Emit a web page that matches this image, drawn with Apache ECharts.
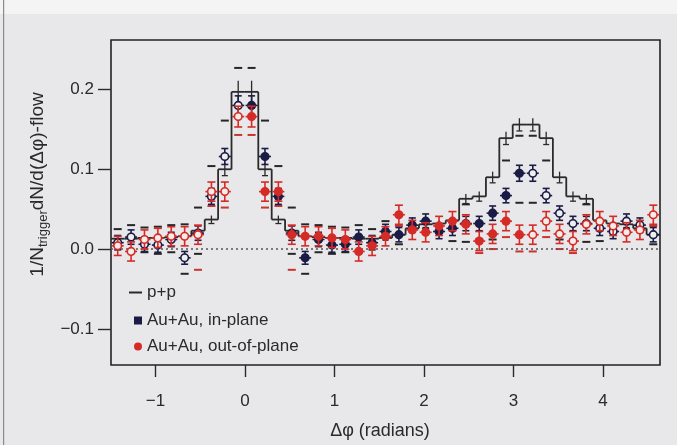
<!DOCTYPE html>
<html>
<head>
<meta charset="utf-8">
<title>Away-side suppression: in-plane vs out-of-plane</title>
<script src="https://cdn.jsdelivr.net/npm/echarts@6/dist/echarts.min.js"></script>
<style>
  html, body { margin: 0; padding: 0; background: #e8e8ea; }
  #chart { width: 677px; height: 445px; }
</style>
</head>
<body>
<div id="chart"></div>
<script>
// measured bins from 0 to pi (21 bins of width pi/21), the open symbols are reflections
const inPlane  = [0.180, 0.116, 0.066, 0.020, -0.011, 0.012, 0.005, 0.006, 0.015, 0.008, 0.022,
                  0.018, 0.030, 0.035, 0.022, 0.026, 0.032, 0.032, 0.045, 0.067, 0.095];
const inErr    = [0.012, 0.010, 0.010, 0.009, 0.008, 0.009, 0.009, 0.009, 0.009, 0.009, 0.009,
                  0.009, 0.009, 0.009, 0.009, 0.009, 0.009, 0.009, 0.009, 0.009, 0.010];
const outPlane = [0.166, 0.072, 0.072, 0.018, 0.016, 0.016, 0.014, 0.012, -0.003, 0.004, 0.016,
                  0.043, 0.024, 0.021, 0.029, 0.035, 0.031, 0.010, 0.019, 0.035, 0.018];
const outErr   = [0.013, 0.012, 0.012, 0.012, 0.012, 0.012, 0.012, 0.012, 0.012, 0.012, 0.012,
                  0.012, 0.012, 0.012, 0.012, 0.012, 0.012, 0.012, 0.012, 0.012, 0.012];
const ppValues = [0.197, 0.100, 0.037, 0.023, 0.016, 0.015, 0.014, 0.014, 0.013, 0.013, 0.014,
                  0.018, 0.026, 0.031, 0.032, 0.036, 0.063, 0.066, 0.090, 0.139, 0.156];
const ppErr    = [0.014, 0.008, 0.005, 0.004, 0.003, 0.003, 0.003, 0.003, 0.003, 0.003, 0.003,
                  0.003, 0.004, 0.004, 0.004, 0.005, 0.006, 0.006, 0.007, 0.008, 0.008];

// systematic (v2) limits, drawn as short dashes; null = not visible
const inSysHi  = [0.227, 0.161, 0.104, 0.052, 0.031, 0.030, 0.028, 0.027, 0.030, 0.025, 0.035,
                  null, null, null, null, null, 0.056, null, null, 0.111, 0.142];
const inSysLo  = [null, null, null, -0.006, -0.031, -0.004, -0.006, -0.004, null, null, null,
                  0.006, null, null, null, 0.010, 0.009, 0.012, 0.012, null, 0.058];
const outSysLo = [0.143, 0.052, 0.054, -0.026, null, null, null, null, null, null, null,
                  0.029, null, null, null, null, null, -0.005, 0.000, 0.015, -0.003];

const xTicks = [-1, 0, 1, 2, 3, 4];
const yTicks = [-0.1, 0.0, 0.1, 0.2];

const binCount = 21;
const binWidth = Math.PI / binCount;
const firstBin = -10;
const lastBin = 30;

const font = 'Liberation Sans, Arial, sans-serif';
const ink = '#2a2a2a';
const navy = '#1b1c45';
const red = '#d52b27';

function reflect(k) {
    if (k < 0) return -k - 1;
    if (k >= binCount) return 2 * binCount - 1 - k;
    return k;
}

function binCenter(k) {
    return (k + 0.5) * binWidth;
}

function buildPoints(values, errors) {
    const out = [];
    for (let k = firstBin; k <= lastBin; k++) {
        const m = reflect(k);
        out.push([binCenter(k), values[m], errors[m], m === k ? 0 : 1]);
    }
    return out;
}

function buildDashes(values) {
    const out = [];
    for (let k = firstBin; k <= lastBin; k++) {
        const v = values[reflect(k)];
        if (v !== null) out.push([binCenter(k), v]);
    }
    return out;
}

function buildSteps() {
    const out = [];
    let prev = null;
    for (let k = firstBin; k <= lastBin; k++) {
        const m = reflect(k);
        out.push([binCenter(k), ppValues[m], ppErr[m], prev === null ? ppValues[m] : prev]);
        prev = ppValues[m];
    }
    return out;
}

// marker with error bar and caps
function pointRenderer(color, openFill, capHalf) {
    return function (params, api) {
        const x = api.value(0), y = api.value(1), e = api.value(2);
        const open = api.value(3) === 1;
        const c = api.coord([x, y]);
        const t = api.coord([x, y + e])[1];
        const b = api.coord([x, y - e])[1];
        const st = { stroke: color, lineWidth: 1.6 };
        return {
            type: 'group',
            children: [
                { type: 'line', shape: { x1: c[0], y1: t, x2: c[0], y2: b }, style: st },
                { type: 'line', shape: { x1: c[0] - capHalf, y1: t, x2: c[0] + capHalf, y2: t }, style: st },
                { type: 'line', shape: { x1: c[0] - capHalf, y1: b, x2: c[0] + capHalf, y2: b }, style: st },
                { type: 'line', shape: { x1: c[0] - 6, y1: c[1], x2: c[0] + 6, y2: c[1] }, style: st },
                { type: 'circle', shape: { cx: c[0], cy: c[1], r: 3.8 },
                  style: { fill: open ? openFill : color, stroke: color, lineWidth: 1.6 } }
            ]
        };
    };
}

function dashRenderer(color) {
    return function (params, api) {
        const c = api.coord([api.value(0), api.value(1)]);
        return {
            type: 'line',
            shape: { x1: c[0] - 4, y1: c[1], x2: c[0] + 4, y2: c[1] },
            style: { stroke: color, lineWidth: 2 }
        };
    };
}

// p+p histogram: one flat step per bin, joined to the previous bin
function stepRenderer(params, api) {
    const x = api.value(0), y = api.value(1), e = api.value(2), prev = api.value(3);
    const l = api.coord([x - binWidth / 2, y]);
    const r = api.coord([x + binWidth / 2, y]);
    const p = api.coord([x - binWidth / 2, prev]);
    const c = api.coord([x, y]);
    const t = api.coord([x, y + e])[1];
    const b = api.coord([x, y - e])[1];
    const st = { stroke: ink, lineWidth: 1.8 };
    return {
        type: 'group',
        children: [
            { type: 'line', shape: { x1: p[0], y1: p[1], x2: l[0], y2: l[1] }, style: st },
            { type: 'line', shape: { x1: l[0], y1: l[1], x2: r[0], y2: r[1] }, style: st },
            { type: 'line', shape: { x1: c[0], y1: t, x2: c[0], y2: b }, style: { stroke: ink, lineWidth: 1.3 } },
            { type: 'line', shape: { x1: c[0] - 3, y1: b, x2: c[0] + 3, y2: b }, style: { stroke: ink, lineWidth: 1.3 } }
        ]
    };
}

const chart = echarts.init(document.getElementById('chart'));

const legendText = { fontFamily: font, fontSize: 17, color: ink };

const option = {
    backgroundColor: '#e8e8ea',
    animation: false,
    textStyle: { fontFamily: font },
    graphic: [
        { type: 'rect', left: 0, top: 0, shape: { width: 677, height: 14 }, style: { fill: '#f4f4f4' }, z: -10 },
        { type: 'rect', left: 3, top: 0, shape: { width: 1.2, height: 445 }, style: { fill: '#8a8a8a' }, z: -10 }
    ],
    grid: {
        left: 111, right: 17, top: 40, bottom: 76,
        show: true, borderColor: '#222', borderWidth: 1.6, backgroundColor: 'transparent'
    },
    legend: [
        {
            data: [{ name: 'p+p', icon: 'path://M0,0H13V2H0Z' }],
            left: 129, top: 284, padding: 0, itemWidth: 13, itemHeight: 2,
            selectedMode: false, textStyle: legendText
        },
        {
            data: [{ name: 'Au+Au, in-plane', icon: 'rect' }],
            left: 134, top: 312, padding: 0, itemWidth: 8, itemHeight: 8,
            selectedMode: false, textStyle: legendText
        },
        {
            data: [{ name: 'Au+Au, out-of-plane', icon: 'circle' }],
            left: 134, top: 338, padding: 0, itemWidth: 8, itemHeight: 8,
            selectedMode: false, textStyle: legendText
        }
    ],
    xAxis: {
        type: 'value',
        min: firstBin * binWidth,
        max: (lastBin + 1) * binWidth,
        splitLine: { show: false },
        axisLine: { show: false, onZero: false },
        axisTick: { show: true, customValues: xTicks, length: 12, lineStyle: { color: ink, width: 1.4 } },
        axisLabel: {
            customValues: xTicks, margin: 28, fontSize: 17, color: ink,
            formatter: v => (v < 0 ? '\u2212' + Math.abs(v) : String(v))
        },
        name: '\u0394\u03c6 (radians)',
        nameLocation: 'middle',
        nameGap: 57,
        nameTextStyle: { fontSize: 18, color: ink, padding: [0, 11, 0, 0] }
    },
    yAxis: {
        type: 'value',
        min: -0.1453,
        max: 0.262,
        splitLine: { show: false },
        axisLine: { show: false, onZero: false },
        axisTick: { show: true, customValues: yTicks, length: 13, lineStyle: { color: ink, width: 1.4 } },
        axisLabel: {
            customValues: yTicks, margin: 17, fontSize: 17, color: ink,
            formatter: v => (v < 0 ? '\u2212' + Math.abs(v).toFixed(1) : v.toFixed(1))
        },
        name: '1/N{sub|trigger}dN/d(\u0394\u03c6)-flow',
        nameLocation: 'middle',
        nameGap: 55,
        nameTextStyle: {
            fontSize: 19, color: ink, padding: [0, 0, 0, 36],
            rich: { sub: { fontSize: 13, color: ink, padding: [10, 0, 0, 0] } }
        }
    },
    series: [
        {
            name: 'zero',
            type: 'line',
            data: [],
            silent: true,
            markLine: {
                silent: true, symbol: 'none', label: { show: false },
                lineStyle: { type: [2, 3], color: '#555', width: 1.6 },
                data: [{ yAxis: 0 }]
            }
        },
        {
            name: 'p+p',
            type: 'custom',
            renderItem: stepRenderer,
            itemStyle: { color: ink },
            data: buildSteps(),
            clip: true,
            z: 2
        },
        {
            name: 'in-plane sys',
            type: 'custom',
            renderItem: dashRenderer('#262626'),
            data: buildDashes(inSysHi).concat(buildDashes(inSysLo)),
            clip: true,
            z: 3
        },
        {
            name: 'out-of-plane sys',
            type: 'custom',
            renderItem: dashRenderer('#c9342e'),
            data: buildDashes(outSysLo),
            clip: true,
            z: 3
        },
        {
            name: 'Au+Au, in-plane',
            type: 'custom',
            renderItem: pointRenderer(navy, '#efefef', 3.5),
            itemStyle: { color: navy },
            data: buildPoints(inPlane, inErr),
            clip: true,
            z: 4
        },
        {
            name: 'Au+Au, out-of-plane',
            type: 'custom',
            renderItem: pointRenderer(red, '#f4ece8', 4),
            itemStyle: { color: red },
            data: buildPoints(outPlane, outErr),
            clip: true,
            z: 5
        }
    ]
};

chart.setOption(option);
</script>
</body>
</html>
